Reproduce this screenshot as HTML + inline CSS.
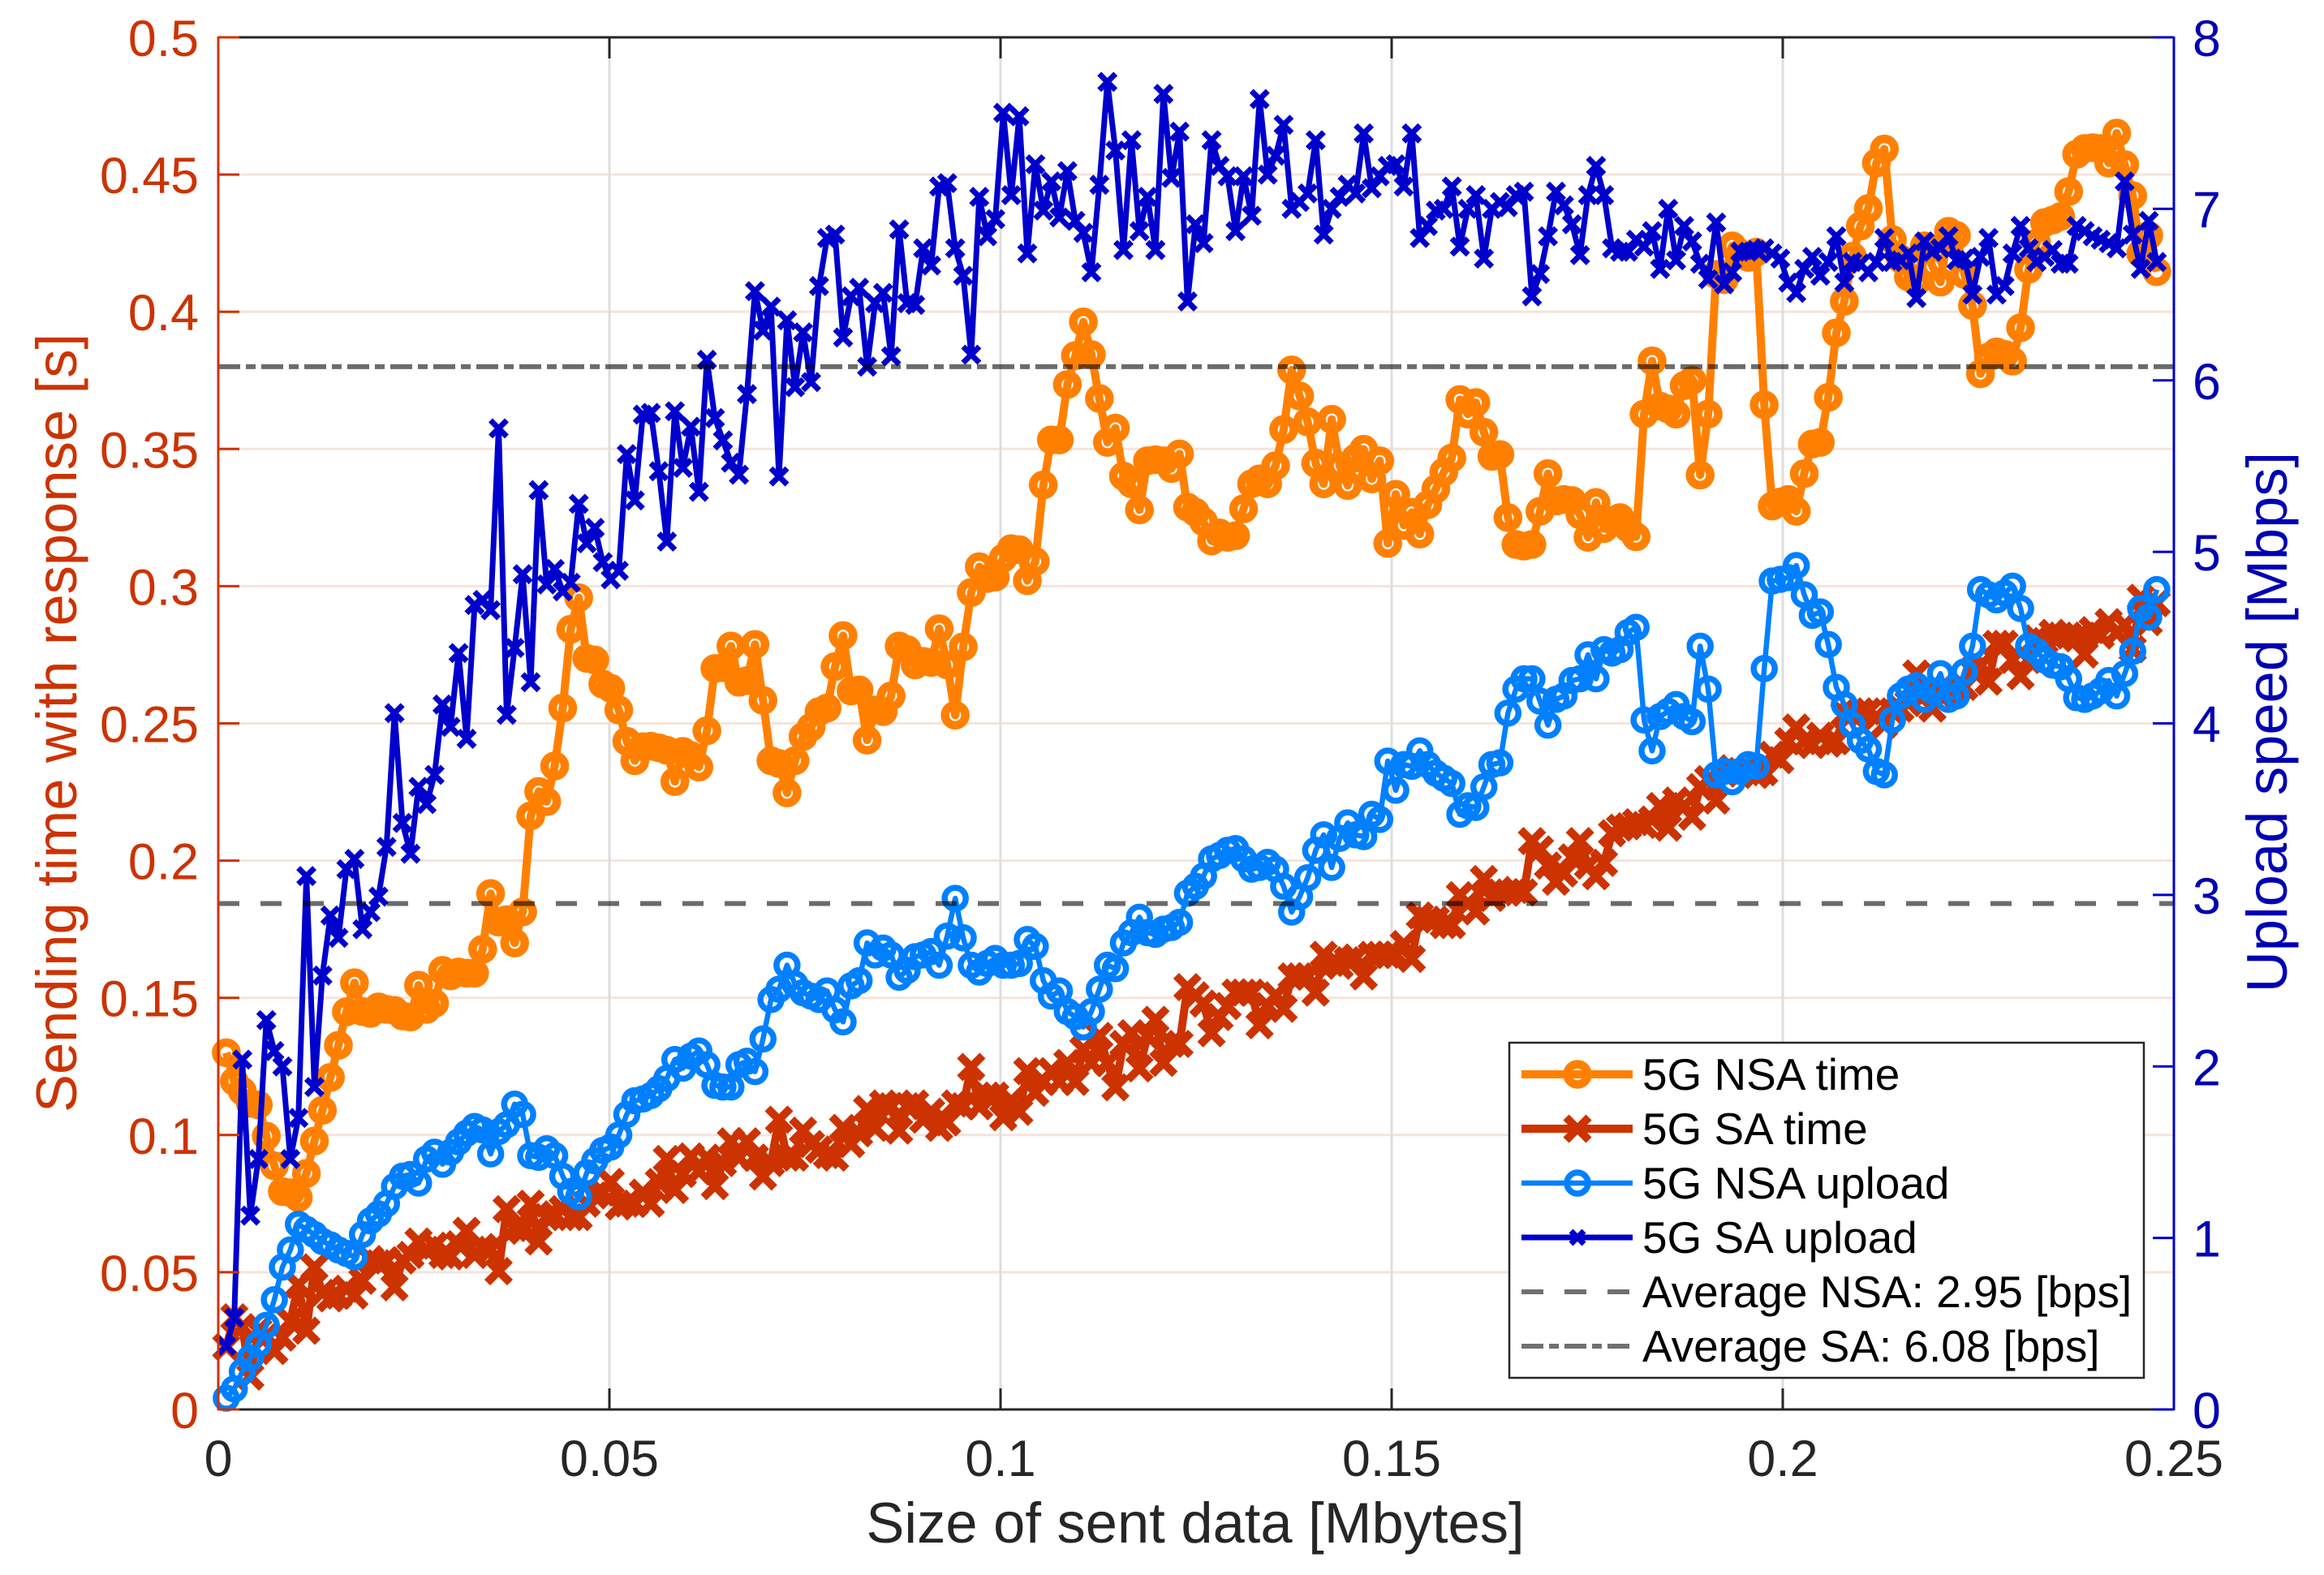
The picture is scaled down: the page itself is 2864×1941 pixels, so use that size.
<!DOCTYPE html>
<html>
<head>
<meta charset="utf-8">
<title>Sending time and upload speed vs size of sent data</title>
<style>
html,body{margin:0;padding:0;background:#fff;}
svg{display:block;}
text{font-family:"Liberation Sans",Arial,sans-serif;}
</style>
</head>
<body>
<svg id="chart" xmlns="http://www.w3.org/2000/svg" width="2864" height="1941" viewBox="0 0 2864 1941">
<rect x="0" y="0" width="2864" height="1941" fill="#ffffff"/>
<g id="grid"></g>
<g id="series"></g>
<g id="averages"></g>
<g id="axes"></g>
<g id="legend"></g>
<text x="1473" y="1901" font-size="70.5" fill="#262626" text-anchor="middle">Size of sent data [Mbytes]</text>
<text transform="translate(94 891) rotate(-90)" font-size="70.5" fill="#cc3300" text-anchor="middle">Sending time with response [s]</text>
<text transform="translate(2818 890) rotate(-90)" font-size="70.5" fill="#0000b4" text-anchor="middle">Upload speed [Mbps]</text>
</svg>
<script>
const sentKB = [1,2,3,4,5,6,7,8,9,10,11,12,13,14,15,16,17,18,19,20,21,22,23,24,25,26,27,28,29,30,31,32,33,34,35,36,37,38,39,40,41,42,43,44,45,46,47,48,49,50,51,52,53,54,55,56,57,58,59,60,61,62,63,64,65,66,67,68,69,70,71,72,73,74,75,76,77,78,79,80,81,82,83,84,85,86,87,88,89,90,91,92,93,94,95,96,97,98,99,100,101,102,103,104,105,106,107,108,109,110,111,112,113,114,115,116,117,118,119,120,121,122,123,124,125,126,127,128,129,130,131,132,133,134,135,136,137,138,139,140,141,142,143,144,145,146,147,148,149,150,151,152,153,154,155,156,157,158,159,160,161,162,163,164,165,166,167,168,169,170,171,172,173,174,175,176,177,178,179,180,181,182,183,184,185,186,187,188,189,190,191,192,193,194,195,196,197,198,199,200,201,202,203,204,205,206,207,208,209,210,211,212,213,214,215,216,217,218,219,220,221,222,223,224,225,226,227,228,229,230,231,232,233,234,235,236,237,238,239,240,241,242];
const nsaTime = [
.130,.1196,.116,.1116,.111,.0996,.0888,.0794,.079,.0772,
.086,.0978,.109,.121,.1327,.1449,.1555,.145,.1443,.1467,
.1458,.1454,.1434,.143,.1546,.1458,.148,.160,.158,.1594,
.159,.159,.1677,.188,.1776,.1785,.170,.1813,.2163,.2252,
.2215,.2345,.2556,.2843,.2958,.2737,.2731,.2643,.2628,.2549,
.2435,.2364,.2415,.2417,.2411,.2402,.2288,.2398,.2383,.2341,
.2473,.270,.2703,.2782,.265,.2656,.2788,.2584,.2364,.2354,
.2247,.2364,.2452,.2486,.2543,.2556,.2707,.282,.2618,.2622,
.2439,.2549,.2543,.260,.2782,.2769,.2713,.2726,.2722,.2845,
.2713,.253,.2779,.2977,.3071,.3028,.3033,.3103,.3137,.3133,
.302,.309,.3369,.3533,.3533,.3735,.384,.3963,.3844,.3684,
.3524,.3576,.3401,.3373,.3278,.3457,.3461,.3457,.3429,.3482,
.3288,.3269,.3235,.3165,.3194,.3178,.3184,.3282,.3373,.3391,
.3373,.3439,.3571,.3788,.3693,.3599,.3448,.3373,.3608,.3439,
.3367,.3467,.3499,.3391,.3457,.3156,.3335,.3222,.3269,.319,
.3297,.3354,.3416,.3467,.368,.3627,.3669,.3561,.3473,.348,
.325,.3152,.3146,.3152,.3273,.341,.331,.3316,.3312,.326,
.3178,.3305,.321,.324,.325,.3212,.318,.3627,.3821,.3656,
.3646,.3627,.3731,.375,.3405,.3627,.4136,.4117,.424,.4212,
.4198,.4217,.3661,.3292,.3307,.3316,.3273,.341,.3518,.3524,
.3688,.3923,.4038,.4202,.4312,.4376,.4542,.4593,.4263,.4193,
.4127,.4108,.424,.4165,.4108,.4293,.4278,.4136,.4023,.3774,
.3835,.3854,.3845,.382,.3942,.4155,.425,.4325,.4334,.4347,
.4438,.4574,.4595,.4598,.4595,.4542,.4651,.4536,.4423,.4212,
.4278,.4146];
const saTime = [
.0228,.0336,.03,.012,.0287,.0267,.0213,.0262,.0321,.0454,
.0287,.0518,.0425,.0405,.0415,.044,.0415,.0469,.0548,.0533,
.0543,.0445,.0543,.0563,.0612,.0582,.0597,.0563,.0558,.0602,
.0651,.0563,.0592,.0582,.0504,.073,.0661,.0651,.075,.0612,
.0701,.0711,.073,.0701,.0701,.075,.078,.079,.0829,.074,
.075,.075,.079,.075,.0829,.0913,.08,.0858,.0922,.0868,
.0918,.0814,.0898,.0977,.0918,.0977,.0918,.0849,.0898,.1056,
.0918,.0918,.1016,.0967,.0947,.0927,.0918,.1026,.0967,.1006,
.1095,.1026,.1115,.1105,.1016,.1105,.1115,.1056,.1085,.1026,
.1046,.1115,.1105,.1248,.1105,.1144,.1144,.1065,.1125,.1085,
.1233,.1154,.1194,.1233,.1194,.1263,.1194,.1312,.1263,.1361,
.1263,.1174,.1332,.1371,.1243,.1361,.142,.1263,.1332,.1332,
.1539,.1509,.1479,.1371,.143,.147,.1519,.1519,.1519,.14,
.147,.1509,.146,.1578,.1578,.1578,.1519,.1657,.1627,.1617,
.1637,.1647,.1578,.1657,.1657,.1657,.1657,.1696,.1642,.18,
.1785,.1785,.1765,.1765,.1874,.1844,.1815,.1933,.1864,.1884,
.1884,.1893,.1884,.2071,.2041,.1982,.1923,.1953,.2012,.2071,
.1982,.1943,.1992,.21,.212,.2125,.214,.213,.215,.2199,
.212,.2219,.2199,.216,.2268,.2297,.2219,.2317,.2337,.2327,
.2332,.2312,.2322,.2386,.2366,.2435,.2485,.2435,.2421,.2455,
.2426,.2435,.2534,.2534,.2544,.2544,.2524,.2495,.2544,.2554,
.2574,.2682,.2603,.2554,.2603,.2613,.2623,.2633,.2692,.2711,
.2652,.279,.279,.2731,.2672,.2731,.281,.28,.283,.282,
.282,.281,.2751,.284,.282,.2869,.283,.2859,.277,.2958,
.2869,.2938];
const nsaUpload = [
.066,.12,.22,.30,.38,.49,.64,.83,.93,1.08,
1.05,1.02,.98,.96,.93,.91,.89,1.02,1.10,1.14,
1.20,1.30,1.36,1.37,1.32,1.46,1.50,1.43,1.50,1.56,
1.61,1.65,1.63,1.49,1.62,1.66,1.78,1.72,1.48,1.47,
1.52,1.48,1.36,1.27,1.24,1.38,1.45,1.51,1.53,1.60,
1.72,1.80,1.81,1.83,1.87,1.93,2.04,1.99,2.06,2.09,
2.01,1.89,1.88,1.88,2.01,2.03,1.97,2.16,2.39,2.45,
2.59,2.48,2.43,2.41,2.39,2.44,2.33,2.26,2.47,2.50,
2.72,2.65,2.69,2.65,2.52,2.56,2.64,2.65,2.67,2.59,
2.76,2.98,2.75,2.59,2.55,2.60,2.63,2.59,2.59,2.60,
2.74,2.70,2.50,2.41,2.44,2.32,2.29,2.23,2.32,2.45,
2.59,2.57,2.72,2.78,2.87,2.78,2.77,2.80,2.81,2.84,
3.01,3.05,3.11,3.21,3.23,3.26,3.27,3.21,3.15,3.16,
3.19,3.15,3.05,2.90,2.99,3.10,3.26,3.35,3.16,3.33,
3.42,3.35,3.34,3.47,3.44,3.78,3.61,3.76,3.75,3.84,
3.76,3.71,3.68,3.65,3.47,3.52,3.51,3.63,3.76,3.77,
4.06,4.20,4.26,4.26,4.13,3.99,4.14,4.16,4.25,4.26,
4.40,4.26,4.43,4.41,4.43,4.53,4.56,4.02,3.84,4.04,
4.07,4.11,4.04,4.01,4.45,4.20,3.70,3.72,3.66,3.72,
3.76,3.75,4.32,4.83,4.84,4.85,4.92,4.75,4.63,4.65,
4.46,4.21,4.11,3.99,3.90,3.85,3.72,3.70,4.02,4.16,
4.20,4.22,4.14,4.19,4.29,4.14,4.16,4.30,4.45,4.78,
4.75,4.72,4.76,4.80,4.67,4.45,4.42,4.37,4.34,4.33,
4.26,4.15,4.14,4.16,4.19,4.25,4.16,4.29,4.42,4.67,
4.62,4.78];
const saUpload = [
.37,.535,2.04,1.13,1.46,2.27,2.09,2.0,1.46,1.70,
3.11,1.88,2.53,2.88,2.75,3.15,3.21,2.80,2.90,2.99,
3.28,4.06,3.42,3.24,3.63,3.53,3.70,4.11,3.98,4.41,
3.91,4.69,4.72,4.66,5.72,4.05,4.44,4.87,4.24,5.36,
4.81,4.90,4.77,4.82,5.28,5.05,5.14,4.94,4.84,4.89,
5.57,5.30,5.80,5.81,5.47,5.06,5.82,5.49,5.73,5.35,
6.12,5.78,5.65,5.52,5.45,5.92,6.52,6.29,6.43,5.44,
6.35,5.96,6.28,5.99,6.55,6.83,6.85,6.25,6.49,6.54,
6.08,6.45,6.51,6.14,6.88,6.45,6.44,6.77,6.67,7.13,
7.15,6.77,6.61,6.15,7.07,6.84,6.94,7.56,7.08,7.54,
6.74,7.26,6.99,7.16,6.95,7.22,6.93,6.86,6.63,7.14,
7.74,7.34,6.76,7.40,6.87,7.07,6.76,7.67,7.18,7.45,
6.46,6.91,6.80,7.40,7.25,7.19,6.87,7.19,6.96,7.64,
7.20,7.31,7.49,7.0,7.04,7.09,7.40,6.85,7.0,7.07,
7.14,7.09,7.44,7.12,7.19,7.25,7.26,7.13,7.44,6.83,
6.90,6.99,7.0,7.13,6.78,7.0,7.08,6.71,7.0,7.04,
7.01,7.08,7.10,6.49,6.62,6.84,7.10,7.02,6.91,6.73,
7.08,7.25,7.08,6.77,6.75,6.75,6.82,6.78,6.87,6.65,
7.0,6.70,6.90,6.81,6.68,6.59,6.92,6.56,6.63,6.75,
6.75,6.76,6.77,6.74,6.71,6.57,6.51,6.65,6.72,6.61,
6.69,6.84,6.57,6.69,6.68,6.63,6.69,6.83,6.69,6.70,
6.74,6.48,6.81,6.75,6.77,6.84,6.70,6.71,6.50,6.72,
6.83,6.50,6.55,6.74,6.90,6.77,6.69,6.72,6.76,6.68,
6.68,6.90,6.87,6.84,6.82,6.80,6.77,7.16,6.85,6.65,
6.93,6.69];
const xTicks = [0,0.05,0.1,0.15,0.2,0.25];
const xTickLabels = ["0","0.05","0.1","0.15","0.2","0.25"];
const leftTicks = [0,0.05,0.1,0.15,0.2,0.25,0.3,0.35,0.4,0.45,0.5];
const leftTickLabels = ["0","0.05","0.1","0.15","0.2","0.25","0.3","0.35","0.4","0.45","0.5"];
const rightTicks = [0,1,2,3,4,5,6,7,8];
const rightTickLabels = ["0","1","2","3","4","5","6","7","8"];
const averageNSA = 2.95;
const averageSA = 6.08;
const kbToMbytes = 0.001024;

const NS = "http://www.w3.org/2000/svg";
const plot = {left:269,right:2679,top:46,bottom:1737};
function xScale(v){ return plot.left + v/0.25*(plot.right-plot.left); }
function yLeft(v){ return plot.bottom - v/0.5*(plot.bottom-plot.top); }
function yRight(v){ return plot.bottom - v/8*(plot.bottom-plot.top); }
function make(tag,parent,attrs){
  const el=document.createElementNS(NS,tag);
  for(const k in attrs){ el.setAttribute(k,attrs[k]); }
  parent.appendChild(el);
  return el;
}
const gridG=document.getElementById("grid");
const axesG=document.getElementById("axes");
const seriesG=document.getElementById("series");
const avgG=document.getElementById("averages");
const legendG=document.getElementById("legend");

leftTicks.forEach(function(t){
  if(t===0||t===0.5) return;
  const l=make("line",gridG,{x1:plot.left,x2:plot.right,y1:yLeft(t),y2:yLeft(t),stroke:"#f6e3dc","stroke-width":3});
  
  
});
xTicks.forEach(function(t){
  if(t===0||t===0.25) return;
  const l=make("line",gridG,{x1:xScale(t),x2:xScale(t),y1:plot.top,y2:plot.bottom,stroke:"#dedede","stroke-width":3});
  
  
});

function drawCircleSeries(name,values,yFn,color,lineW,r,markW){
  const g=make("g",seriesG,{});
  
  
  const pts=values.map(function(v,i){return xScale(sentKB[i]*kbToMbytes).toFixed(1)+","+yFn(v).toFixed(1);}).join(" ");
  const pl=make("polyline",g,{points:pts,fill:"none",stroke:color,"stroke-width":lineW,"stroke-linejoin":"round"});
  
  
  values.forEach(function(v,i){
    const c=make("circle",g,{cx:xScale(sentKB[i]*kbToMbytes),cy:yFn(v),r:r,fill:"none",stroke:color,"stroke-width":markW});
    
    
  });
}
function crossPath(cx,cy,a){
  return "M"+(cx-a)+" "+(cy-a)+"L"+(cx+a)+" "+(cy+a)+"M"+(cx-a)+" "+(cy+a)+"L"+(cx+a)+" "+(cy-a);
}
function drawCrossSeries(name,values,yFn,color,lineW,a,markW){
  const g=make("g",seriesG,{});
  
  
  const pts=values.map(function(v,i){return xScale(sentKB[i]*kbToMbytes).toFixed(1)+","+yFn(v).toFixed(1);}).join(" ");
  const pl=make("polyline",g,{points:pts,fill:"none",stroke:color,"stroke-width":lineW,"stroke-linejoin":"round"});
  
  
  values.forEach(function(v,i){
    const p=make("path",g,{d:crossPath(xScale(sentKB[i]*kbToMbytes),yFn(v),a),fill:"none",stroke:color,"stroke-width":markW});
    
    
  });
}
drawCircleSeries("nsa-time-series",nsaTime,yLeft,"#ff8000",10,12.5,10.5);
drawCrossSeries("sa-time-series",saTime,yLeft,"#cc3300",10,14,10);
drawCircleSeries("nsa-upload-series",nsaUpload,yRight,"#0080ff",6.5,13,7.5);
drawCrossSeries("sa-upload-series",saUpload,yRight,"#0000cc",7,10,7);

const nsaAvg=make("line",avgG,{x1:plot.left,x2:plot.right,y1:yRight(averageNSA),y2:yRight(averageNSA),stroke:"rgba(0,0,0,0.58)","stroke-width":6,"stroke-dasharray":"26 26"});


const saAvg=make("line",avgG,{x1:plot.left,x2:plot.right,y1:yRight(averageSA),y2:yRight(averageSA),stroke:"rgba(0,0,0,0.58)","stroke-width":6,"stroke-dasharray":"27 7 12 7"});



const topAxis=make("line",axesG,{x1:plot.left,x2:plot.right,y1:plot.top,y2:plot.top,stroke:"#262626","stroke-width":3});


const bottomAxis=make("line",axesG,{x1:plot.left,x2:plot.right,y1:plot.bottom,y2:plot.bottom,stroke:"#262626","stroke-width":3});


const leftAxis=make("line",axesG,{x1:plot.left,x2:plot.left,y1:plot.top-1,y2:plot.bottom+1,stroke:"#cc3300","stroke-width":3});


const rightAxis=make("line",axesG,{x1:plot.right,x2:plot.right,y1:plot.top-1,y2:plot.bottom+1,stroke:"#0000cc","stroke-width":3});



xTicks.forEach(function(t,i){
  const x=xScale(t);
  if(t!==0&&t!==0.25){
    const a=make("line",axesG,{x1:x,x2:x,y1:plot.bottom,y2:plot.bottom-26,stroke:"#262626","stroke-width":3});
    
    
    const b=make("line",axesG,{x1:x,x2:x,y1:plot.top,y2:plot.top+26,stroke:"#262626","stroke-width":3});
    
    
  }
  const lab=make("text",axesG,{x:x,y:1819,"font-size":62.7,fill:"#262626","text-anchor":"middle"});
  lab.textContent=xTickLabels[i];
  
  
});
leftTicks.forEach(function(t,i){
  const y=yLeft(t);
  const a=make("line",axesG,{x1:plot.left,x2:plot.left+26,y1:y,y2:y,stroke:"#cc3300","stroke-width":3});
  
  
  const lab=make("text",axesG,{x:245,y:y+23,"font-size":62.7,fill:"#cc3300","text-anchor":"end"});
  lab.textContent=leftTickLabels[i];
  
  
});
rightTicks.forEach(function(t,i){
  const y=yRight(t);
  const a=make("line",axesG,{x1:plot.right,x2:plot.right-26,y1:y,y2:y,stroke:"#0000cc","stroke-width":3});
  
  
  const lab=make("text",axesG,{x:2702,y:y+23,"font-size":62.7,fill:"#0000b4","text-anchor":"start"});
  lab.textContent=rightTickLabels[i];
  
  
});

const legendLabels=["5G NSA time","5G SA time","5G NSA upload","5G SA upload","Average NSA: 2.95 [bps]","Average SA: 6.08 [bps]"];
const legendBox=make("rect",legendG,{x:1860,y:1285,width:782,height:413,fill:"#ffffff",stroke:"#262626","stroke-width":2.5});


legendLabels.forEach(function(label,i){
  const rowY=1324+i*67;
  const attrs={x1:1875,x2:2012,y1:rowY,y2:rowY};
  if(i===0){attrs.stroke="#ff8000";attrs["stroke-width"]=10;}
  if(i===1){attrs.stroke="#cc3300";attrs["stroke-width"]=10;}
  if(i===2){attrs.stroke="#0080ff";attrs["stroke-width"]=6.5;}
  if(i===3){attrs.stroke="#0000cc";attrs["stroke-width"]=7;}
  if(i===4){attrs.stroke="#707070";attrs["stroke-width"]=6;attrs["stroke-dasharray"]="27 26";}
  if(i===5){attrs.stroke="#707070";attrs["stroke-width"]=6;attrs["stroke-dasharray"]="27 7 12 7";}
  const l=make("line",legendG,attrs);
  
  
  if(i===0){
    const m=make("circle",legendG,{cx:1944,cy:rowY,r:12.5,fill:"none",stroke:"#ff8000","stroke-width":10.5});
    
    
  }
  if(i===1){
    const m=make("path",legendG,{d:crossPath(1944,rowY,14),fill:"none",stroke:"#cc3300","stroke-width":10});
    
    
  }
  if(i===2){
    const m=make("circle",legendG,{cx:1944,cy:rowY,r:13,fill:"none",stroke:"#0080ff","stroke-width":7.5});
    
    
  }
  if(i===3){
    const m=make("path",legendG,{d:crossPath(1944,rowY,8),fill:"none",stroke:"#0000cc","stroke-width":7});
    
    
  }
  const t=make("text",legendG,{x:2024,y:rowY+19,"font-size":54.9,fill:"#000000"});
  t.textContent=label;
  
  
});
</script>
</body>
</html>
